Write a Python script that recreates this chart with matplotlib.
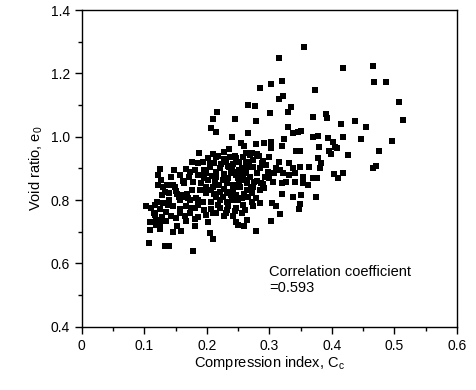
import numpy as np
import matplotlib
matplotlib.use("Agg")
import matplotlib.pyplot as plt
from matplotlib.ticker import MultipleLocator, FormatStrFormatter

plt.rcParams['font.family'] = ['Liberation Sans', 'DejaVu Sans']

# compression index Cc and void ratio e0
cc = [0.356, 0.315, 0.417, 0.465, 0.467, 0.486, 0.303, 0.320, 0.285, 0.373,
      0.322, 0.316, 0.265, 0.277, 0.334, 0.508, 0.513, 0.301, 0.330, 0.369,
      0.391, 0.392, 0.437, 0.414, 0.454, 0.216, 0.209, 0.245, 0.278, 0.206,
      0.214, 0.266, 0.240, 0.330, 0.337, 0.346, 0.351, 0.323, 0.369, 0.377,
      0.394, 0.402, 0.418, 0.446, 0.496, 0.255, 0.259, 0.278, 0.291, 0.303,
      0.303, 0.320, 0.342, 0.349, 0.379, 0.396, 0.405, 0.408, 0.227, 0.187,
      0.209, 0.214, 0.202, 0.262, 0.269, 0.280, 0.299, 0.274, 0.288, 0.316,
      0.331, 0.377, 0.382, 0.398, 0.425, 0.476, 0.176, 0.186, 0.193, 0.125,
      0.148, 0.167, 0.173, 0.212, 0.221, 0.233, 0.242, 0.251, 0.252, 0.265,
      0.381, 0.364, 0.465, 0.471, 0.122, 0.157, 0.172, 0.186, 0.199, 0.208,
      0.227, 0.239, 0.246, 0.280, 0.298, 0.308, 0.321, 0.332, 0.341, 0.353,
      0.370, 0.376, 0.403, 0.409, 0.417, 0.122, 0.130, 0.136, 0.145, 0.164,
      0.178, 0.190, 0.213, 0.220, 0.232, 0.251, 0.261, 0.275, 0.286, 0.306,
      0.320, 0.326, 0.341, 0.354, 0.362, 0.133, 0.140, 0.152, 0.156, 0.162,
      0.170, 0.157, 0.173, 0.198, 0.207, 0.221, 0.232, 0.241, 0.247, 0.264,
      0.272, 0.285, 0.291, 0.320, 0.337, 0.350, 0.375, 0.194, 0.207, 0.221,
      0.232, 0.243, 0.256, 0.266, 0.278, 0.304, 0.311, 0.349, 0.348, 0.103,
      0.111, 0.125, 0.134, 0.157, 0.166, 0.181, 0.186, 0.207, 0.221, 0.232,
      0.246, 0.258, 0.261, 0.117, 0.128, 0.142, 0.157, 0.165, 0.173, 0.186,
      0.198, 0.214, 0.227, 0.242, 0.317, 0.109, 0.119, 0.125, 0.166, 0.181,
      0.202, 0.247, 0.264, 0.302, 0.109, 0.125, 0.146, 0.152, 0.159, 0.181,
      0.250, 0.260, 0.278, 0.205, 0.209, 0.108, 0.133, 0.140, 0.178, 0.237,
      0.247, 0.257, 0.231, 0.240, 0.253, 0.258, 0.269, 0.234, 0.226, 0.215,
      0.242, 0.253, 0.237, 0.247, 0.226, 0.215, 0.210, 0.202, 0.195, 0.205,
      0.181, 0.162, 0.127, 0.143, 0.149, 0.263, 0.274, 0.285, 0.295, 0.293,
      0.264, 0.274, 0.317, 0.338, 0.349, 0.274, 0.285, 0.272, 0.256, 0.234,
      0.240, 0.175, 0.146, 0.138, 0.117, 0.120, 0.183, 0.189, 0.176,
      0.160, 0.168, 0.150, 0.190, 0.196, 0.215, 0.222, 0.228, 0.235, 0.245,
      0.250, 0.256, 0.262, 0.268, 0.272, 0.283, 0.290, 0.245, 0.235, 0.218,
      0.205, 0.198, 0.212, 0.228, 0.238, 0.250, 0.260, 0.270, 0.280, 0.290,
      0.300, 0.310, 0.218, 0.230, 0.245, 0.210, 0.195, 0.185, 0.140, 0.130,
      0.128, 0.115, 0.118, 0.135, 0.150]
e0 = [1.284, 1.248, 1.216, 1.223, 1.174, 1.173, 1.166, 1.177, 1.153, 1.147,
      1.129, 1.118, 1.100, 1.098, 1.095, 1.109, 1.053, 1.074, 1.079, 1.061,
      1.072, 1.058, 1.050, 1.040, 1.031, 1.078, 1.056, 1.057, 1.049, 1.028,
      1.015, 1.011, 0.998, 1.030, 1.013, 1.016, 1.019, 0.994, 1.000, 1.002,
      0.995, 0.985, 0.998, 0.994, 0.988, 0.981, 0.971, 0.977, 0.981, 0.985,
      0.964, 0.971, 0.956, 0.956, 0.969, 0.956, 0.969, 0.964, 0.953, 0.948,
      0.946, 0.937, 0.932, 0.948, 0.943, 0.946, 0.937, 0.927, 0.918, 0.919,
      0.916, 0.932, 0.916, 0.946, 0.942, 0.956, 0.919, 0.916, 0.921, 0.897,
      0.895, 0.897, 0.890, 0.916, 0.900, 0.908, 0.914, 0.921, 0.895, 0.904,
      0.900, 0.906, 0.900, 0.908, 0.879, 0.879, 0.874, 0.879, 0.885, 0.876,
      0.883, 0.887, 0.878, 0.887, 0.890, 0.885, 0.885, 0.879, 0.885, 0.874,
      0.869, 0.869, 0.883, 0.871, 0.885, 0.848, 0.843, 0.848, 0.848, 0.855,
      0.858, 0.855, 0.858, 0.848, 0.855, 0.858, 0.865, 0.858, 0.855, 0.858,
      0.853, 0.858, 0.858, 0.853, 0.848, 0.827, 0.822, 0.820, 0.811, 0.811,
      0.806, 0.801, 0.801, 0.822, 0.832, 0.827, 0.822, 0.832, 0.843, 0.832,
      0.822, 0.832, 0.837, 0.818, 0.809, 0.816, 0.809, 0.795, 0.795, 0.801,
      0.795, 0.801, 0.806, 0.811, 0.806, 0.790, 0.780, 0.788, 0.771, 0.780,
      0.774, 0.771, 0.764, 0.771, 0.780, 0.774, 0.785, 0.771, 0.774, 0.769,
      0.774, 0.785, 0.769, 0.753, 0.748, 0.750, 0.759, 0.750, 0.759, 0.748,
      0.753, 0.759, 0.750, 0.750, 0.756, 0.732, 0.738, 0.729, 0.735, 0.740,
      0.732, 0.732, 0.738, 0.735, 0.706, 0.708, 0.698, 0.719, 0.701, 0.719,
      0.722, 0.717, 0.704, 0.695, 0.677, 0.666, 0.656, 0.656, 0.638, 0.937,
      0.932, 0.937, 0.921, 0.900, 0.885, 0.874, 0.874, 0.869, 0.864, 0.874,
      0.848, 0.843, 0.827, 0.816, 0.811, 0.811, 0.843, 0.864, 0.895, 0.906,
      0.895, 0.861, 0.864, 0.874, 0.843, 0.921, 0.906, 0.900, 0.911, 0.874,
      0.853, 0.843, 0.895, 0.900, 0.906, 0.780, 0.790, 0.795, 0.759, 0.780,
      0.801, 0.774, 0.780, 0.785, 0.785, 0.795, 0.806, 0.832, 0.832,
      0.815, 0.818, 0.830, 0.880, 0.870, 0.890, 0.915, 0.930, 0.905, 0.890,
      0.870, 0.900, 0.885, 0.920, 0.950, 0.940, 0.925, 0.940, 0.960, 0.940,
      0.915, 0.840, 0.820, 0.835, 0.815, 0.800, 0.820, 0.840, 0.860, 0.850,
      0.870, 0.900, 0.785, 0.760, 0.765, 0.760, 0.770, 0.800, 0.800, 0.790,
      0.815, 0.760, 0.720, 0.735, 0.745]

fig = plt.figure(figsize=(4.76, 3.90), dpi=100)
ax = fig.add_axes([0.172, 0.162, 0.788, 0.812])

ax.plot(cc, e0, 's', color='black', markersize=3.8, markeredgewidth=0)

ax.set_xlim(0, 0.6)
ax.set_ylim(0.4, 1.4)
ax.xaxis.set_major_locator(MultipleLocator(0.1))
ax.xaxis.set_minor_locator(MultipleLocator(0.05))
ax.yaxis.set_major_locator(MultipleLocator(0.2))
ax.yaxis.set_minor_locator(MultipleLocator(0.1))
ax.yaxis.set_major_formatter(FormatStrFormatter('%.1f'))
ax.set_xticks([0, 0.1, 0.2, 0.3, 0.4, 0.5, 0.6])
ax.set_xticklabels(['0', '0.1', '0.2', '0.3', '0.4', '0.5', '0.6'])

ax.tick_params(which='both', direction='out', top=False, right=False,
               labelsize=10, colors='black')
ax.tick_params(which='major', length=5, width=1)
ax.tick_params(which='minor', length=3, width=1)
for s in ax.spines.values():
    s.set_linewidth(1)
    s.set_color('black')

ax.set_xlabel('Compression index, C$_\\mathregular{c}$', fontsize=10.5, labelpad=1)
ax.set_ylabel('Void ratio, e$_\\mathregular{0}$', fontsize=10.5, labelpad=4)

ax.text(0.30, 0.595, 'Correlation coefficient\n=0.593', fontsize=10.5,
        va='top', ha='left', linespacing=1.15)

fig.savefig('out.png', dpi=100)
